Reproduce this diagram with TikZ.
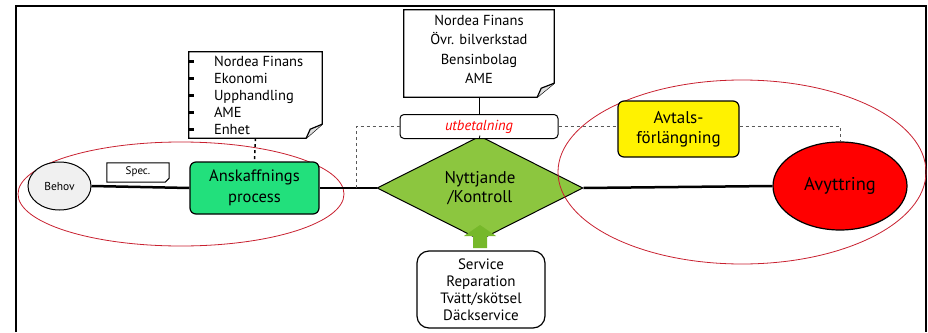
\documentclass[tikz,border=0pt]{standalone}
\usepackage{fontspec}
\setmainfont{PT Sans}
\usetikzlibrary{shapes.geometric}
\definecolor{procgreen}{HTML}{22E07C}
\definecolor{usegreen}{HTML}{8CC63F}
\definecolor{arrowgreen}{HTML}{76B82A}
\definecolor{ringred}{HTML}{C8202F}
\begin{document}
\begin{tikzpicture}[x=1pt,y=-1pt,
	box/.style={draw, line width=1.2pt, rounded corners=6pt, align=center, inner sep=0pt},
	notebox/.style={draw, line width=1.2pt, fill=white},
	ring/.style={draw=ringred, line width=0.8pt},
	mainline/.style={line width=2.5pt},
	dashline/.style={draw=gray!70!black, dashed, line width=0.7pt}]
	% Define the frame
	\useasboundingbox (0,0) rectangle (928,332);
	\draw[line width=1.5pt] (16,332) -- (16,6) -- (926,6) -- (926,332);
	% Left ring behind the boxes
	\draw[ring] (181,194) ellipse [x radius=163pt, y radius=52pt];
	% Define the main nodes
	\node[ellipse, draw, line width=1pt, fill=gray!12, minimum width=63pt, minimum height=48pt, inner sep=0pt, font=\fontsize{11.5}{13}\selectfont] (behov) at (59.5,186) {Behov};
	\node[box, fill=procgreen, minimum width=129pt, minimum height=52pt, font=\fontsize{16.5}{20.5}\selectfont] (anskaff) at (254.5,188) {Anskaffnings\\process};
	\node[diamond, draw, line width=1pt, fill=usegreen, minimum width=206pt, minimum height=68pt, inner sep=0pt, align=center, font=\fontsize{17}{18.5}\selectfont] (nyttj) at (480,188) {Nyttjande\\/Kontroll};
	\node[ellipse, draw, line width=1.2pt, fill=red, minimum width=134pt, minimum height=88pt, inner sep=0pt, font=\fontsize{18.5}{20}\selectfont] (avytt) at (840,186) {Avyttring};
	\node[box, line width=1pt, rounded corners=4pt, fill=white, minimum width=158pt, minimum height=24pt, text=red, font=\fontsize{14.5}{16}\selectfont\itshape] (utbet) at (479,126.5) {utbetalning};
	\node[box, rounded corners=12pt, minimum width=128pt, minimum height=77pt, font=\fontsize{15}{17}\selectfont] (service) at (481,289.5) {Service\\Reparation\\Tvätt/skötsel\\Däckservice};
	\coordinate (tap) at (356,188);
	% Draw the main line
	\draw[mainline] (behov.east) -- (anskaff.west);
	\draw[mainline] (anskaff.east) -- (nyttj.west);
	\draw[mainline] (nyttj.east) -- (avytt.west);
	% Spec. note
	\node[minimum width=62pt, minimum height=19pt, inner sep=0pt] (spec) at (138,172.5) {};
	\draw[notebox, line width=1pt] (spec.north west) -- (spec.north east) -- ([yshift=4pt]spec.south east) -- ([xshift=-4pt]spec.south east) -- (spec.south west) -- cycle;
	\node[font=\fontsize{11}{12}\selectfont] (spectext) at ([yshift=1pt]spec.center) {Spec.};
	% Left note with the list
	\node[minimum width=133pt, minimum height=86pt, inner sep=0pt] (leftnote) at (255.5,95) {};
	\draw[notebox] (leftnote.north west) -- (leftnote.north east) -- ([yshift=14pt]leftnote.south east) -- ([xshift=-16pt]leftnote.south east) -- (leftnote.south west) -- cycle;
	\draw[notebox, fill=gray!25] ([yshift=14pt]leftnote.south east) -- ([xshift=-12pt,yshift=9pt]leftnote.south east) -- ([xshift=-16pt]leftnote.south east);
	\node[anchor=west, align=left, inner sep=0pt, font=\fontsize{14.5}{17}\selectfont] (leftitems) at ([xshift=25pt]leftnote.west) {Nordea Finans\\Ekonomi\\Upphandling\\AME\\Enhet};
	\foreach \yy in {61,78,95,112,129}
		\fill (189,\yy-1.5) rectangle (194,\yy+1.5);
	% Top note
	\node[minimum width=150pt, minimum height=87pt, inner sep=0pt] (topnote) at (479,53.5) {};
	\draw[notebox] (topnote.north west) -- (topnote.north east) -- ([yshift=14pt]topnote.south east) -- ([xshift=-17pt]topnote.south east) -- (topnote.south west) -- cycle;
	\draw[notebox, fill=gray!25] ([yshift=14pt]topnote.south east) -- ([xshift=-13pt,yshift=9pt]topnote.south east) -- ([xshift=-17pt]topnote.south east);
	\node[align=center, inner sep=0pt, font=\fontsize{14.5}{19.5}\selectfont] (topitems) at ([yshift=4pt]topnote.center) {Nordea Finans\\Övr. bilverkstad\\Bensinbolag\\AME};
	% Connect the notes
	\draw[dashed, line width=1.5pt] (leftnote.south) -- (anskaff.north);
	\draw[line width=0.8pt] (topnote.south) -- (utbet.north);
	\draw[line width=0.8pt] (utbet.south) -- (nyttj.north);
	% Right ring and the extension box
	\draw[ring] (742,172) ellipse [x radius=184pt, y radius=92pt];
	\node[box, fill=yellow, minimum width=121pt, minimum height=56pt, font=\fontsize{17}{20}\selectfont] (avtal) at (678.5,129) {Avtals-\\förlängning};
	% Dashed links
	\draw[dashline] (tap) |- (utbet.west);
	\draw[dashline] (utbet.east) -- (utbet.east -| avtal.west);
	\draw[dashline] (avtal.east |- utbet.east) -| (avytt.north);
	% Green arrow up to the diamond
	\fill[arrowgreen] (473,248) -- (473,236) -- (464,236) -- (480,225) -- (496,236) -- (487,236) -- (487,248) -- cycle;
\end{tikzpicture}
\end{document}
